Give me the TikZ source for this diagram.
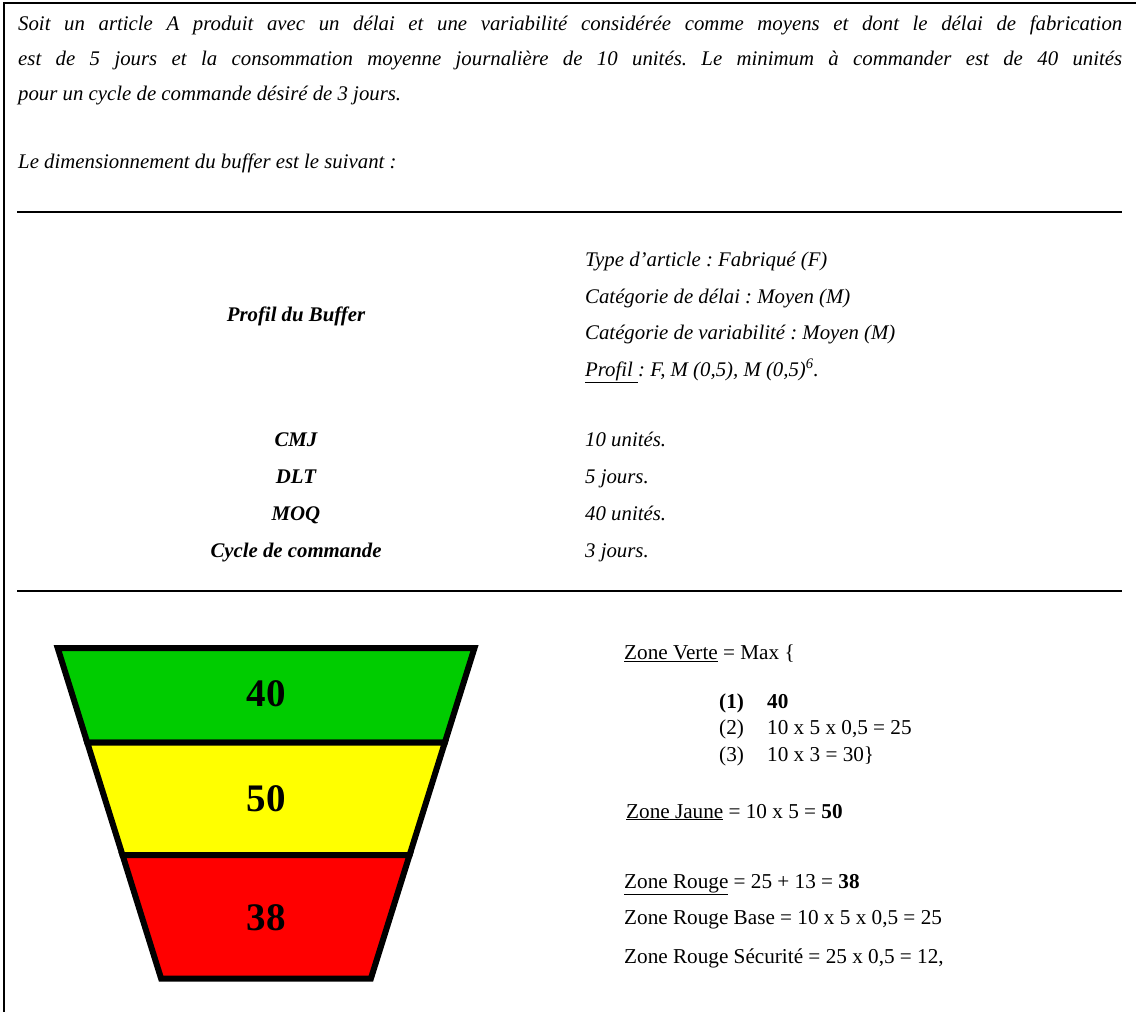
\documentclass[tikz,border=0pt]{standalone}
\usepackage{fontspec}
\setmainfont{Liberation Serif}
\frenchspacing
\newcommand\txtsize{\fontsize{20.8}{25}\selectfont}
\newcommand\calcsize{\fontsize{21.2}{25}\selectfont}
\newcommand\bigsize{\fontsize{39}{45}\selectfont}
\definecolor{zgreen}{RGB}{0,204,0}
\definecolor{zyellow}{RGB}{255,255,0}
\definecolor{zred}{RGB}{255,0,0}
\begin{document}
\begin{tikzpicture}[x=1pt,y=-1pt,
  intro/.style={anchor=base west, inner sep=0pt, font=\txtsize\itshape},
  lab/.style={anchor=base, inner sep=0pt, font=\txtsize\bfseries\itshape},
  val/.style={anchor=base west, inner sep=0pt, font=\txtsize\itshape},
  calc/.style={anchor=base west, inner sep=0pt, font=\calcsize},
  calcb/.style={anchor=base west, inner sep=0pt, font=\calcsize\bfseries},
  zonenum/.style={anchor=center, inner sep=0pt, font=\bigsize\bfseries},
  band/.style={draw=black, line width=6pt, line join=miter},
  borderline/.style={line width=2.5pt},
  hrule/.style={line width=2.3pt}]
\useasboundingbox (0,0) rectangle (1136,1012);
% frame
\coordinate (ftr) at (1136,3);
\coordinate (ftl) at (4,3);
\coordinate (fbl) at (4,1012);
\draw[borderline] (ftr) -- (ftl) -- (fbl);
% rules
\coordinate (r1a) at (17,211.7);
\coordinate (r1b) at (1122,211.7);
\coordinate (r2a) at (17,590.7);
\coordinate (r2b) at (1122,590.7);
\draw[hrule] (r1a) -- (r1b);
\draw[hrule] (r2a) -- (r2b);
% intro
\node[intro] (i1) at (18,30.5) {\makebox[1104pt][s]{Soit un article A produit avec un délai et une variabilité considérée comme moyens et dont le délai de fabrication}};
\node[intro] (i2) at (18,65.5) {\makebox[1104pt][s]{est de 5 jours et la consommation moyenne journalière de 10 unités. Le minimum à commander est de 40 unités}};
\node[intro] (i3) at (18,100.5) {pour un cycle de commande désiré de 3 jours.};
\node[intro] (i4) at (18,168) {Le dimensionnement du buffer est le suivant :};
% table
\node[lab] (pb) at (296,321) {Profil du Buffer};
\node[val] (t1) at (585,266) {Type d’article : Fabriqué (F)};
\node[val] (t2) at (585,303) {Catégorie de délai : Moyen (M)};
\node[val] (t3) at (585,339.5) {Catégorie de variabilité : Moyen (M)};
\node[val] (t4) at (585,376) {\underline{Profil\ }: F, M (0,5), M (0,5)\textsuperscript{6}.};
\node[lab] (cmj) at (296,446) {CMJ};
\node[lab] (dlt) at (296,483) {DLT};
\node[lab] (moq) at (296,520) {MOQ};
\node[lab] (cyc) at (296,557) {Cycle de commande};
\node[val] (v1) at (585,446) {10 unités.};
\node[val] (v2) at (585,483) {5 jours.};
\node[val] (v3) at (585,520) {40 unités.};
\node[val] (v4) at (585,557) {3 jours.};
% funnel
\coordinate (ftl0) at (57.7,648);
\coordinate (ftr0) at (474.5,648);
\coordinate (fl1) at (87.3,742.7);
\coordinate (fr1) at (444.8,742.7);
\coordinate (fl2) at (122.5,855);
\coordinate (fr2) at (409.6,855);
\coordinate (fbl0) at (161.1,978.5);
\coordinate (fbr0) at (370.9,978.5);
\draw[band, fill=zgreen] (ftl0) -- (ftr0) -- (fr1) -- (fl1) -- cycle;
\draw[band, fill=zyellow] (fl1) -- (fr1) -- (fr2) -- (fl2) -- cycle;
\draw[band, fill=zred] (fl2) -- (fr2) -- (fbr0) -- (fbl0) -- cycle;
\node[zonenum] (n40) at (266,694) {40};
\node[zonenum] (n50) at (266,799) {50};
\node[zonenum] (n38) at (266,918) {38};
% calculations
\node[calc] (zv) at (624,659) {\underline{Zone Verte} = Max \{};
\node[calcb] (c1a) at (719,708) {(1)};
\node[calcb] (c1b) at (767,708) {40};
\node[calc] (c2a) at (719,734.5) {(2)};
\node[calc] (c2b) at (767,734.5) {10 x 5 x 0,5 = 25};
\node[calc] (c3a) at (719,761) {(3)};
\node[calc] (c3b) at (767,761) {10 x 3 = 30\}};
\node[calc] (zj) at (626,818) {\underline{Zone Jaune} = 10 x 5 = \textbf{50}};
\node[calc] (zr) at (624,888) {\underline{Zone Rouge} = 25 + 13 = \textbf{38}};
\node[calc] (zrb) at (624,924) {Zone Rouge Base = 10 x 5 x 0,5 = 25};
\node[calc] (zrs) at (624,963) {Zone Rouge Sécurité = 25 x 0,5 = 12,};
\end{tikzpicture}
\end{document}
